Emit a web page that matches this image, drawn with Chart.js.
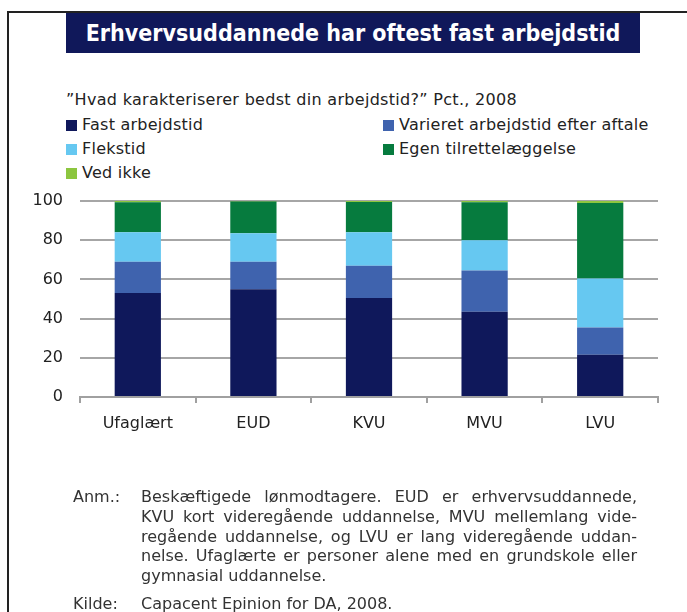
<!DOCTYPE html>
<html>
<head>
<meta charset="utf-8">
<script src="https://cdn.jsdelivr.net/npm/chart.js@4"></script>
<style>
  body { margin: 0; background: #fff; font-family: "DejaVu Sans", Verdana, sans-serif; color: #222; }
  #page { position: relative; width: 687px; height: 612px; overflow: hidden; }
  #frame { position: absolute; left: 7px; top: 11px; right: -10px; bottom: -10px;
           border-top: 2px solid #222; border-left: 2px solid #222; }
  #title { position: absolute; left: 66px; top: 13px; width: 574px; height: 40px; background: #10185a;
           color: #fff; font-weight: bold; font-size: 23px; line-height: 40px; text-align: center;
           font-stretch: condensed; white-space: nowrap; }
  #sub { position: absolute; left: 66px; top: 90px; font-size: 16px; letter-spacing: 0.3px; white-space: nowrap; }
  #legend .item { position: absolute; font-size: 16px; letter-spacing: 0.25px; white-space: nowrap; line-height: 18px; }
  #legend .sw { display: inline-block; width: 11px; height: 11px; margin-right: 5px; vertical-align: -1px; }
  #chart { position: absolute; left: 0; top: 0; }
  .note { position: absolute; font-size: 16px; color: #333; line-height: 19.8px; }
  .note .lbl { position: absolute; left: 0; top: 0; }
  .note .txt { position: absolute; left: 68px; width: 496px; }
  .note .txt div { text-align: justify; text-align-last: justify; white-space: nowrap; }
  .note .txt div.last { text-align-last: left; }
</style>
</head>
<body>
<div id="page">
  <div id="frame"></div>
  <div id="title">Erhvervsuddannede har oftest fast arbejdstid</div>
  <div id="sub">”Hvad karakteriserer bedst din arbejdstid?” Pct., 2008</div>
  <div id="legend"></div>
  <canvas id="chart" width="687" height="612"></canvas>
  <div class="note" style="left:73px; top:487px;">
    <div class="lbl">Anm.:</div>
    <div class="txt">
      <div>Beskæftigede lønmodtagere. EUD er erhvervsuddannede,</div>
      <div>KVU kort videregående uddannelse, MVU mellemlang vide-</div>
      <div>regående uddannelse, og LVU er lang videregående uddan-</div>
      <div>nelse. Ufaglærte er personer alene med en grundskole eller</div>
      <div class="last">gymnasial uddannelse.</div>
    </div>
  </div>
  <div class="note" style="left:73px; top:594px;">
    <div class="lbl">Kilde:</div>
    <div class="txt"><div class="last">Capacent Epinion for DA, 2008.</div></div>
  </div>
</div>
<script>
const categories = ['Ufaglært', 'EUD', 'KVU', 'MVU', 'LVU'];
const seriesNames = ['Fast arbejdstid', 'Varieret arbejdstid efter aftale', 'Flekstid', 'Egen tilrettelæggelse', 'Ved ikke'];
const fast = [53, 55, 50.5, 43.5, 21.5];
const varieret = [16, 14, 16.5, 21, 14];
const flekstid = [15, 14.5, 17, 15.5, 25];
const egen = [15.3, 16.3, 15.5, 19.3, 38.5];
const vedIkke = [0.7, 0.2, 0.5, 0.7, 1];
const colors = ['#0f185b', '#3f63ae', '#66c8f1', '#067b3e', '#8cc63f'];
const yTicks = [0, 20, 40, 60, 80, 100];

const seriesValues = [fast, varieret, flekstid, egen, vedIkke];

// legend in two columns, built from the series names
const legendPos = [[66, 116], [383, 116], [66, 140], [383, 140], [66, 164]];
const legend = document.getElementById('legend');
seriesNames.forEach((name, i) => {
    const el = document.createElement('div');
    el.className = 'item';
    el.style.left = legendPos[i][0] + 'px';
    el.style.top = legendPos[i][1] + 'px';
    el.innerHTML = '<span class="sw" style="background:' + colors[i] + '"></span>' + name;
    legend.appendChild(el);
});

const ctx = document.getElementById('chart').getContext('2d');
new Chart(ctx, {
    type: 'bar',
    data: {
        labels: categories,
        datasets: seriesNames.map((name, i) => ({
            label: name,
            data: seriesValues[i],
            backgroundColor: colors[i],
            borderWidth: 0,
            categoryPercentage: 1,
            barPercentage: 0.4
        }))
    },
    options: {
        responsive: false,
        animation: false,
        layout: { padding: { left: 0, right: 29, top: 201, bottom: 170 } },
        plugins: { legend: { display: false }, tooltip: { enabled: false } },
        scales: {
            x: {
                stacked: true,
                afterFit: scale => { scale.height = 45; },
                border: { display: true, color: '#a0a0a0', width: 2 },
                grid: { drawOnChartArea: false, drawTicks: true, tickLength: 6, color: '#a0a0a0', lineWidth: 2 },
                ticks: { color: '#222', padding: 11, font: { family: 'DejaVu Sans', size: 16 } }
            },
            y: {
                stacked: true,
                min: 0,
                max: 100,
                afterFit: scale => { scale.width = 80; },
                afterBuildTicks: scale => { scale.ticks = yTicks.map(v => ({ value: v })); },
                border: { display: false },
                grid: { drawTicks: false, color: '#a6a6a6', lineWidth: 2 },
                ticks: { color: '#222', padding: 17, font: { family: 'DejaVu Sans', size: 16 } }
            }
        }
    }
});
</script>
</body>
</html>
